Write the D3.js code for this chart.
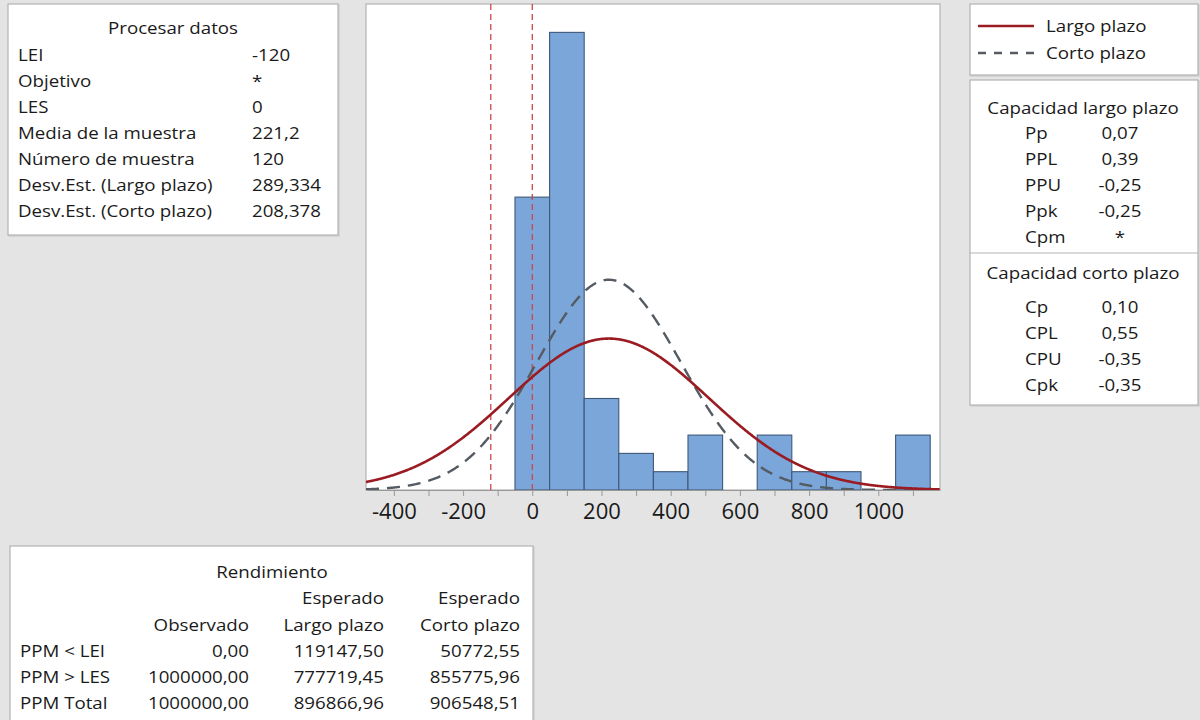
<!DOCTYPE html>
<html>
<head>
<meta charset="utf-8">
<script src="https://cdn.jsdelivr.net/npm/d3@7"></script>
<style>
  html, body { margin: 0; padding: 0; background: #e4e4e4; }
  svg { display: block; }
  text { font-family: "Open Sans", "Noto Sans", sans-serif; fill: #1a1a1a; }
</style>
</head>
<body>
<svg id="chart" width="1200" height="720"></svg>
<script>
// ---------- data ----------
const binCenters = [0, 100, 200, 300, 400, 500, 600, 700, 800, 900, 1000, 1100];
const binCounts  = [32, 50, 10, 4, 2, 6, 0, 6, 2, 2, 0, 6];
const binWidth = 100;
const LEI = -120, LES = 0;
const sampleMean = 221.2, sampleN = 120;
const sdLong = 289.334, sdShort = 208.378;
const xTickValues = [-400, -300, -200, -100, 0, 100, 200, 300, 400, 500, 600, 700, 800, 900, 1000, 1100];
const xTickLabels = [-400, -200, 0, 200, 400, 600, 800, 1000];

const procLabels = ["LEI", "Objetivo", "LES", "Media de la muestra", "Número de muestra", "Desv.Est. (Largo plazo)", "Desv.Est. (Corto plazo)"];
const procValues = ["-120", "*", "0", "221,2", "120", "289,334", "208,378"];

const longLabels = ["Pp", "PPL", "PPU", "Ppk", "Cpm"];
const longValues = ["0,07", "0,39", "-0,25", "-0,25", "*"];
const shortLabels = ["Cp", "CPL", "CPU", "Cpk"];
const shortValues = ["0,10", "0,55", "-0,35", "-0,35"];

const perfHeader1 = ["", "", "Esperado", "Esperado"];
const perfHeader2 = ["", "Observado", "Largo plazo", "Corto plazo"];
const perfRows = ["PPM < LEI", "PPM > LES", "PPM Total"];
const perfObserved = ["0,00", "1000000,00", "1000000,00"];
const perfLong = ["119147,50", "777719,45", "896866,96"];
const perfShort = ["50772,55", "855775,96", "906548,51"];

const legendLabels = ["Largo plazo", "Corto plazo"];

// ---------- setup ----------
const svg = d3.select("#chart");
const panel = { left: 366, right: 940, top: 4, bottom: 490 };
const x = d3.scaleLinear().domain([-480.6, 1178.3]).range([panel.left, panel.right]);
const y = d3.scaleLinear().domain([0, 53.1]).range([panel.bottom, panel.top]);

const FS = 17, SX = 1.1;
const boxStroke = "#b3b3b3";
function box(x0, y0, w, h) {
  svg.append("rect").attr("x", x0 + 1).attr("y", y0 + 1).attr("width", w).attr("height", h)
    .attr("fill", "none").attr("stroke", "#d0d0d0").attr("stroke-width", 1.5);
  svg.append("rect").attr("x", x0).attr("y", y0).attr("width", w).attr("height", h)
    .attr("fill", "#ffffff").attr("stroke", boxStroke).attr("stroke-width", 1.2);
}
function label(tx, ty, str, anchor) {
  svg.append("text").attr("transform", `translate(${tx},${ty}) scale(${SX},1)`)
    .attr("text-anchor", anchor || "start").attr("font-size", FS).text(str);
}

// ---------- plot panel ----------
svg.append("rect").attr("x", panel.left).attr("y", panel.top)
  .attr("width", panel.right - panel.left).attr("height", panel.bottom - panel.top)
  .attr("fill", "#fff").attr("stroke", boxStroke).attr("stroke-width", 1.2);

const defs = svg.append("defs");
defs.append("clipPath").attr("id", "clip").append("rect")
  .attr("x", panel.left).attr("y", panel.top)
  .attr("width", panel.right - panel.left).attr("height", panel.bottom - panel.top);

const g = svg.append("g").attr("clip-path", "url(#clip)");

// bars
g.selectAll("rect.bar").data(binCenters.map((c, i) => ({ c, n: binCounts[i] })).filter(d => d.n > 0))
  .join("rect").attr("class", "bar")
  .attr("x", d => x(d.c - binWidth / 2))
  .attr("width", d => x(d.c + binWidth / 2) - x(d.c - binWidth / 2))
  .attr("y", d => y(d.n))
  .attr("height", d => y(0) - y(d.n))
  .attr("fill", "#7aa6da").attr("stroke", "#3f5878").attr("stroke-width", 1.1);

// spec limit lines
[LEI, LES].forEach(v => {
  g.append("line").attr("x1", x(v)).attr("x2", x(v)).attr("y1", panel.top).attr("y2", panel.bottom)
    .attr("stroke", "#c9474a").attr("stroke-width", 1.3).attr("stroke-dasharray", "6,4");
});

// fitted normal curves (from the stated mean / std. dev.)
function normalCounts(sd) {
  const [a, b] = x.domain();
  return d3.range(a, b + 1, 2).map(v => {
    const z = (v - sampleMean) / sd;
    return [v, sampleN * binWidth * Math.exp(-0.5 * z * z) / (sd * Math.sqrt(2 * Math.PI))];
  });
}
const line = d3.line().x(d => x(d[0])).y(d => y(d[1]));
g.append("path").datum(normalCounts(sdShort)).attr("d", line)
  .attr("fill", "none").attr("stroke", "#555b62").attr("stroke-width", 2.4).attr("stroke-dasharray", "13,8");
g.append("path").datum(normalCounts(sdLong)).attr("d", line)
  .attr("fill", "none").attr("stroke", "#9a1c22").attr("stroke-width", 2.6);

// x axis
const axis = d3.axisBottom(x).tickValues(xTickValues).tickSize(6).tickSizeOuter(0)
  .tickFormat(d => xTickLabels.includes(d) ? d : "");
const ax = svg.append("g").attr("transform", `translate(0,${panel.bottom})`).call(axis);
ax.select(".domain").attr("stroke", "#999").attr("stroke-width", 1);
ax.selectAll(".tick line").attr("stroke", "#999");
ax.selectAll(".tick text").attr("font-size", 22).attr("dy", "0.92em").attr("fill", "#111")
  .style("font-family", "'Open Sans', sans-serif");

// ---------- Procesar datos box ----------
box(8, 4, 330, 231);
label(173, 34, "Procesar datos", "middle");
procLabels.forEach((l, i) => {
  const yy = 61 + i * 26;
  label(18, yy, l);
  label(252, yy, procValues[i]);
});

// ---------- legend box ----------
box(970, 4, 228, 71);
svg.append("line").attr("x1", 978).attr("x2", 1034).attr("y1", 26).attr("y2", 26)
  .attr("stroke", "#9a1c22").attr("stroke-width", 2.6);
svg.append("line").attr("x1", 978).attr("x2", 1034).attr("y1", 53).attr("y2", 53)
  .attr("stroke", "#555b62").attr("stroke-width", 2.4).attr("stroke-dasharray", "8,8");
legendLabels.forEach((l, i) => label(1046, 32 + i * 27, l));

// ---------- capability box ----------
box(970, 80, 228, 325);
label(1083, 114, "Capacidad largo plazo", "middle");
longLabels.forEach((l, i) => {
  const yy = 139 + i * 26;
  label(1025, yy, l);
  label(1120, yy, longValues[i], "middle");
});
svg.append("line").attr("x1", 970).attr("x2", 1198).attr("y1", 253).attr("y2", 253).attr("stroke", boxStroke).attr("stroke-width", 1.2);
label(1083, 279, "Capacidad corto plazo", "middle");
shortLabels.forEach((l, i) => {
  const yy = 313 + i * 26;
  label(1025, yy, l);
  label(1120, yy, shortValues[i], "middle");
});

// ---------- Rendimiento box ----------
box(10, 546, 523, 180);
label(272, 578, "Rendimiento", "middle");
const colRight = [null, 249, 384, 520];
[perfHeader1, perfHeader2].forEach((row, r) => {
  row.forEach((t, c) => {
    if (!t) return;
    label(colRight[c], 604 + r * 26.5, t, "end");
  });
});
perfRows.forEach((l, i) => {
  const yy = 657 + i * 26;
  label(20, yy, l);
  label(colRight[1], yy, perfObserved[i], "end");
  label(colRight[2], yy, perfLong[i], "end");
  label(colRight[3], yy, perfShort[i], "end");
});
</script>
</body>
</html>
